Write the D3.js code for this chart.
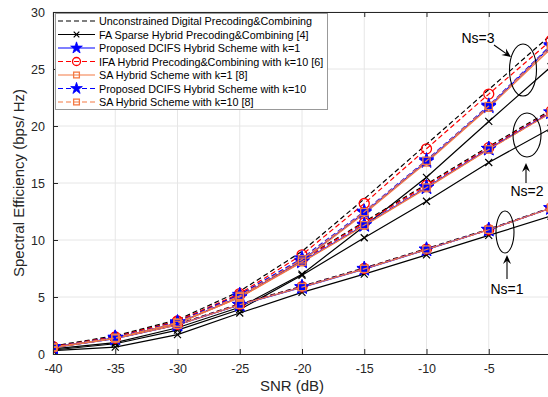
<!DOCTYPE html>
<html><head><meta charset="utf-8">
<script src="https://cdn.jsdelivr.net/npm/d3@7"></script>
<style>body{margin:0;background:#fff}svg{display:block;font-family:"Liberation Sans",Arial,Helvetica,sans-serif}</style>
</head><body><svg id="c" width="548" height="397"></svg>
<script>
// ---- data ----
const snr = [-40, -35, -30, -25, -20, -15, -10, -5, 0];
const xTicks = [-40, -35, -30, -25, -20, -15, -10, -5, 0];
const xTickLabels = ["-40", "-35", "-30", "-25", "-20", "-15", "-10", "-5", ""];
const yTicks = [0, 5, 10, 15, 20, 25, 30];

// Ns = 3
const unc3   = [0.70, 1.60, 3.00, 5.50, 9.00, 13.6, 18.4, 23.2, 28.0];
const fa3    = [0.45, 1.00, 2.30, 4.10, 7.00, 11.2, 15.5, 20.4, 25.2];
const dk1_3  = [0.60, 1.40, 2.70, 5.00, 8.20, 12.4, 16.9, 21.7, 27.0];
const ifa3   = [0.65, 1.50, 2.90, 5.30, 8.70, 13.2, 18.0, 22.8, 27.5];
const sak1_3 = [0.58, 1.38, 2.68, 4.95, 8.15, 12.3, 16.8, 21.6, 26.8];
const dk10_3 = [0.62, 1.45, 2.80, 5.20, 8.40, 12.5, 17.0, 21.8, 27.1];
const sak10_3= [0.60, 1.42, 2.75, 5.10, 8.30, 12.45, 16.95, 21.75, 27.0];
// Ns = 2
const unc2   = [0.65, 1.50, 2.90, 5.20, 8.30, 11.6, 14.9, 18.2, 21.4];
const fa2    = [0.35, 0.90, 2.10, 3.90, 6.90, 10.2, 13.4, 16.8, 19.8];
const dk1_2  = [0.60, 1.40, 2.70, 5.00, 8.10, 11.3, 14.6, 18.0, 21.2];
const ifa2   = [0.62, 1.45, 2.85, 5.15, 8.25, 11.5, 14.8, 18.1, 21.3];
const sak1_2 = [0.58, 1.38, 2.68, 4.95, 8.05, 11.25, 14.55, 17.95, 21.15];
const dk10_2 = [0.60, 1.42, 2.75, 5.05, 8.15, 11.35, 14.65, 18.0, 21.2];
const sak10_2= [0.60, 1.40, 2.72, 5.00, 8.10, 11.3, 14.6, 17.95, 21.15];
// Ns = 1
const unc1   = [0.60, 1.40, 2.60, 4.40, 5.95, 7.55, 9.25, 10.95, 12.85];
const fa1    = [0.30, 0.60, 1.70, 3.60, 5.40, 7.00, 8.70, 10.40, 12.1];
const dk1_1  = [0.55, 1.35, 2.55, 4.30, 5.85, 7.45, 9.15, 10.90, 12.8];
const ifa1   = [0.58, 1.38, 2.58, 4.35, 5.90, 7.50, 9.20, 10.90, 12.8];
const sak1_1 = [0.56, 1.36, 2.56, 4.32, 5.87, 7.47, 9.17, 10.90, 12.8];
const dk10_1 = [0.57, 1.37, 2.57, 4.33, 5.88, 7.48, 9.18, 10.90, 12.8];
const sak10_1= [0.56, 1.36, 2.56, 4.32, 5.87, 7.47, 9.17, 10.90, 12.8];

const legendLabels = [
  "Unconstrained Digital Precoding&Combining",
  "FA Sparse Hybrid Precoding&Combining [4]",
  "Proposed DCIFS Hybrid Scheme with k=1",
  "IFA Hybrid Precoding&Combining with k=10 [6]",
  "SA Hybrid Scheme with k=1 [8]",
  "Proposed DCIFS Hybrid Scheme with k=10",
  "SA Hybrid Scheme with k=10 [8]"
];

// ---- styles ----
const ORANGE = "#f47a45";
const styles = [
  {color:"#000", dash:"5,3", marker:null},
  {color:"#000", dash:null, marker:"x"},
  {color:"#0000ff", dash:null, marker:"star"},
  {color:"#ff0000", dash:"5,3", marker:"circle"},
  {color:ORANGE, dash:null, marker:"square"},
  {color:"#0000ff", dash:"5,3", marker:"star"},
  {color:ORANGE, dash:"5,3", marker:"square"}
];
const groups = [
  [unc3, fa3, dk1_3, ifa3, sak1_3, dk10_3, sak10_3],
  [unc2, fa2, dk1_2, ifa2, sak1_2, dk10_2, sak10_2],
  [unc1, fa1, dk1_1, ifa1, sak1_1, dk10_1, sak10_1]
];

const svg = d3.select("#c");
const m = {l:53, t:12, r:551, b:354};
const x = d3.scaleLinear().domain([-40, 0]).range([m.l, m.r]);
const y = d3.scaleLinear().domain([0, 30]).range([m.b, m.t]);
const AX = "#262626";

// grid
const grid = svg.append("g").attr("stroke", "#e6e6e6").attr("stroke-width", 1);
xTicks.slice(1).forEach(v => grid.append("line").attr("x1", x(v)).attr("x2", x(v)).attr("y1", m.t).attr("y2", m.b));
yTicks.slice(1).forEach(v => grid.append("line").attr("x1", m.l).attr("x2", m.r).attr("y1", y(v)).attr("y2", y(v)));

// clip
svg.append("clipPath").attr("id", "clip").append("rect")
  .attr("x", m.l).attr("y", m.t - 6).attr("width", m.r - m.l).attr("height", m.b - m.t + 12);

const plot = svg.append("g").attr("clip-path", "url(#clip)");
const line = d3.line().x((d, i) => x(snr[i])).y(d => y(d));

function drawMarker(g, type, cx, cy, color, k) {
  k = k || 1;
  if (type === "x") {
    const s = 3.5 * k;
    g.append("path").attr("d", `M${cx-s},${cy-s}L${cx+s},${cy+s}M${cx-s},${cy+s}L${cx+s},${cy-s}`)
      .attr("stroke", color).attr("stroke-width", 1.2).attr("fill", "none");
  } else if (type === "star") {
    g.append("path").attr("d", d3.symbol().type(d3.symbolStar).size(66 * k * k)())
      .attr("transform", `translate(${cx},${cy})`).attr("fill", color).attr("stroke", color).attr("stroke-width", 0.8);
  } else if (type === "circle") {
    g.append("circle").attr("cx", cx).attr("cy", cy).attr("r", 5 * k)
      .attr("fill", "none").attr("stroke", color).attr("stroke-width", 1.3);
  } else if (type === "square") {
    const s = 3.6 * k;
    g.append("rect").attr("x", cx - s).attr("y", cy - s).attr("width", 2*s).attr("height", 2*s)
      .attr("fill", "none").attr("stroke", color).attr("stroke-width", 1.3);
  }
}

styles.forEach((st, si) => {
  groups.forEach(gr => {
    const data = gr[si];
    plot.append("path").datum(data).attr("d", line)
      .attr("fill", "none").attr("stroke", st.color).attr("stroke-width", 1.2)
      .attr("stroke-dasharray", st.dash);
    if (st.marker) data.forEach((v, i) => drawMarker(plot, st.marker, x(snr[i]), y(v), st.color));
  });
});

// axes
const xAxis = svg.append("g").attr("transform", `translate(0,${m.b})`)
  .call(d3.axisBottom(x).tickValues(xTicks).tickSize(-5).tickPadding(10).tickFormat((d, i) => xTickLabels[i]));
const yAxis = svg.append("g").attr("transform", `translate(${m.l},0)`)
  .call(d3.axisLeft(y).tickValues(yTicks).tickSize(-5).tickPadding(8));
const topAxis = svg.append("g").attr("transform", `translate(0,${m.t})`)
  .call(d3.axisTop(x).tickValues(xTicks).tickSize(-5).tickFormat(""));
[xAxis, yAxis, topAxis].forEach(a => {
  a.selectAll("path").attr("stroke", AX).attr("stroke-width", 1.1);
  a.selectAll("line").attr("stroke", AX);
  a.selectAll("text").attr("fill", AX).style("font-size", "12.5px").style("font-family", "Liberation Sans, Arial, sans-serif");
});

// axis labels
svg.append("text").attr("x", (m.l + 531) / 2).attr("y", 391).attr("text-anchor", "middle")
  .attr("fill", AX).style("font-size", "15px").text("SNR (dB)");
svg.append("text").attr("transform", `translate(24,${(m.t + m.b) / 2}) rotate(-90)`).attr("text-anchor", "middle")
  .attr("fill", AX).style("font-size", "15px").text("Spectral Efficiency (bps/ Hz)");

// annotations
const ann = svg.append("g").attr("stroke", "#000").attr("fill", "none").attr("stroke-width", 1.1);
ann.append("ellipse").attr("cx", 523).attr("cy", 70).attr("rx", 13.5).attr("ry", 26);
ann.append("ellipse").attr("cx", 527).attr("cy", 135).attr("rx", 14).attr("ry", 22);
ann.append("ellipse").attr("cx", 505).attr("cy", 232).attr("rx", 9).attr("ry", 21);

function arrow(x1, y1, x2, y2) {
  const a = Math.atan2(y2 - y1, x2 - x1), L = 9, Wd = 4;
  const bx = x2 - L * Math.cos(a), by = y2 - L * Math.sin(a);
  const px = -Math.sin(a), py = Math.cos(a);
  const nx = x2 - 0.65 * L * Math.cos(a), ny = y2 - 0.65 * L * Math.sin(a);
  ann.append("line").attr("x1", x1).attr("y1", y1).attr("x2", nx).attr("y2", ny);
  ann.append("path").attr("d", `M${x2},${y2}L${bx + px*Wd},${by + py*Wd}L${nx},${ny}L${bx - px*Wd},${by - py*Wd}Z`)
    .attr("fill", "#000").attr("stroke", "none");
}
arrow(494, 45, 511, 57);
arrow(526, 183, 526, 163);
arrow(507, 279, 507, 255);

const lab = svg.append("g").attr("fill", "#000").style("font-size", "14px").attr("text-anchor", "middle");
lab.append("text").attr("x", 478).attr("y", 43).text("Ns=3");
lab.append("text").attr("x", 527).attr("y", 196).text("Ns=2");
lab.append("text").attr("x", 507).attr("y", 294).text("Ns=1");

// legend
const lg = svg.append("g");
lg.append("rect").attr("x", 55.5).attr("y", 13.5).attr("width", 272).attr("height", 96)
  .attr("fill", "#fff").attr("stroke", "#999").attr("stroke-width", 1);
styles.forEach((st, i) => {
  const yy = 21 + i * 13.5;
  lg.append("line").attr("x1", 58).attr("x2", 95).attr("y1", yy).attr("y2", yy)
    .attr("stroke", st.color).attr("stroke-width", 1.2).attr("stroke-dasharray", st.dash);
  if (st.marker) drawMarker(lg, st.marker, 76.5, yy, st.color, 0.8);
  lg.append("text").attr("x", 99).attr("y", yy + 4).attr("fill", "#000")
    .style("font-size", "10.8px").text(legendLabels[i]);
});
</script></body></html>
